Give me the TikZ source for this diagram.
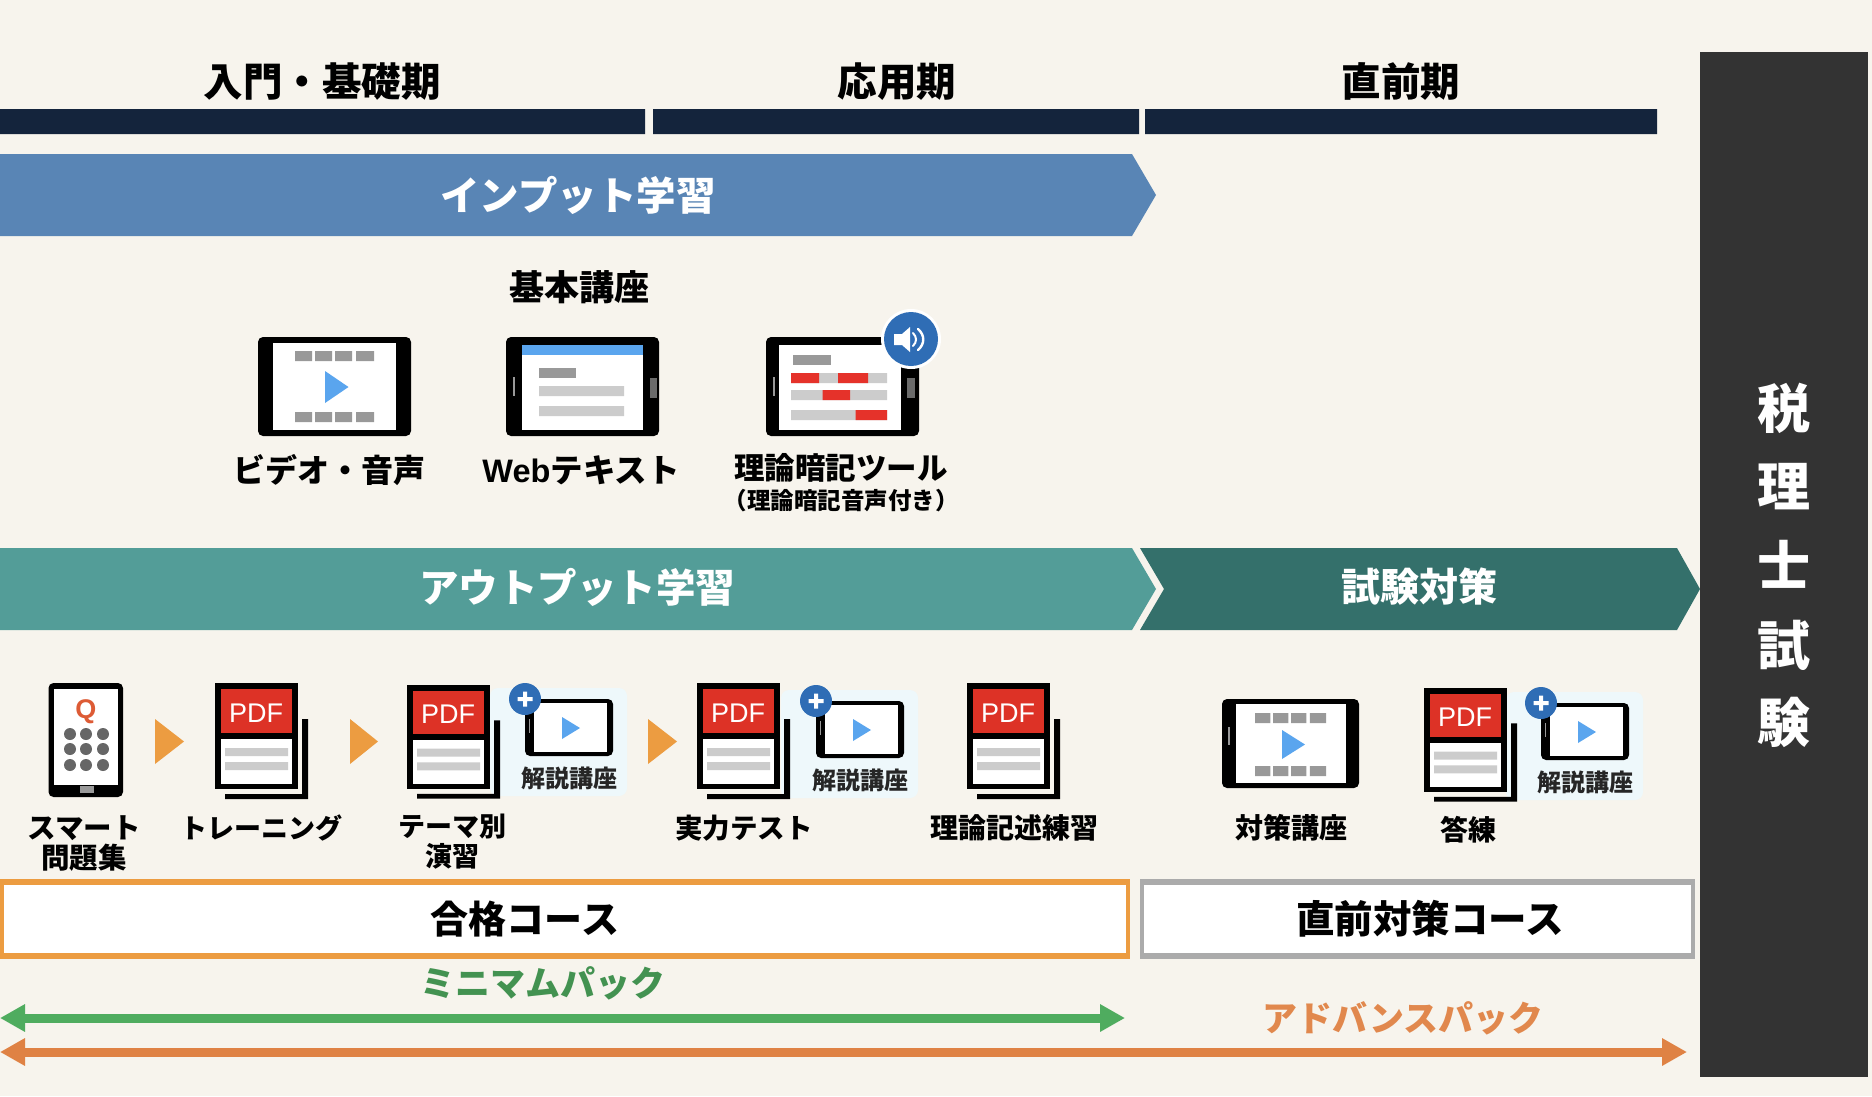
\documentclass[tikz,border=0pt]{standalone}
\usepackage{fontspec}
\usetikzlibrary{arrows.meta}
\setmainfont{Noto Sans CJK JP}
\newfontfamily\pdffont{Liberation Sans}
\newcommand\fsz[1]{\fontsize{#1}{#1}\selectfont}
\definecolor{bgc}{HTML}{F7F4ED}
\definecolor{navy}{HTML}{14243C}
\definecolor{inblue}{HTML}{5985B5}
\definecolor{outteal}{HTML}{539D98}
\definecolor{darkteal}{HTML}{34706B}
\definecolor{barc}{HTML}{333333}
\definecolor{playb}{HTML}{5AA5EE}
\definecolor{gr1}{HTML}{999999}
\definecolor{gr2}{HTML}{CCCCCC}
\definecolor{redc}{HTML}{E5322A}
\definecolor{pdfred}{HTML}{DD3226}
\definecolor{badge}{HTML}{2F6DB5}
\definecolor{orangec}{HTML}{EC9C41}
\definecolor{grayb}{HTML}{ABABAB}
\definecolor{greenc}{HTML}{4FAC5F}
\definecolor{orarrow}{HTML}{DF8244}
\definecolor{panelc}{HTML}{EEF8FB}
\definecolor{qc}{HTML}{DD5B35}
\tikzset{
  jt/.style={inner sep=0pt,outer sep=0pt,font=\bfseries\fsz{#1},text height=0.88*#1pt,text depth=0.12*#1pt},
  jw/.style={jt=#1,text=white},
  tabk/.style={fill=black,rounded corners=5pt},
  twoline/.style={inner sep=0pt,align=center,font=\bfseries\fontsize{#1}{30}\selectfont}
}
% tablet: outer and screen
\newcommand\tabfr[8]{\fill[tabk] (#1,#2) rectangle (#3,#4); \fill[white] (#5,#6) rectangle (#7,#8);}
% four video blocks
\newcommand\vidbl[3]{\begin{scope}[shift={(#1,#2)},xscale=#3]
  \fill[gr1] (0,0) rectangle (17,10) (20,0) rectangle (37,10) (40,0) rectangle (57,10) (61,0) rectangle (79,10);
\end{scope}}
% pdf icon: x y yscale name
\newcommand\pdficon[4]{\begin{scope}[shift={(#1,#2)},yscale=#3]
  \fill[black] (0,0) rectangle (83,106);
  \fill[pdfred] (6,6) rectangle (77,50);
  \fill[white] (6,56) rectangle (77,101);
  \fill[gr2] (10,65) rectangle (73,73) (10,79) rectangle (73,87);
  \fill[black] (87,36) rectangle (93,116) (10,111) rectangle (93,116);
  \node[inner sep=0pt,text=white,font=\pdffont\fsz{27}] (#4) at (41,30) {PDF};
\end{scope}}
% mini lecture tablet with panel and badge: x y name
\newcommand\minipanel[2]{\fill[panelc,rounded corners=8pt] (#1-35,#2-11) rectangle (#1+102,#2+97);}
\newcommand\minitab[3]{\begin{scope}[shift={(#1,#2)}]
  \fill[tabk] (0,0) rectangle (88,57);
  \fill[white] (9,4) rectangle (82,53);
  \fill[gr1] (3.5,20) rectangle (5,34);
  \fill[playb] (37,18) -- (55,29) -- (37,40) -- cycle;
  \fill[badge] (0,0) circle (16);
  \fill[white] (-7.5,-2) rectangle (7.5,2) (-2,-7.5) rectangle (2,7.5);
  \node[jt=24,text=black!85] (#3) at (44,79) {解説講座};
\end{scope}}
\begin{document}
\begin{tikzpicture}[x=1pt,y=-1pt]
\useasboundingbox (0,0) rectangle (1872,1096);
\fill[bgc] (0,0) rectangle (1872,1096);
% headers
\fill[navy] (0,109) rectangle (645,134) (653,109) rectangle (1139,134) (1145,109) rectangle (1657,134);
\node[jt=39.5] (h1) at (322,81.5) {入門・基礎期};
\node[jt=39.5] (h2) at (897,81.5) {応用期};
\node[jt=39.5] (h3) at (1401,81.5) {直前期};
% chevrons
\fill[inblue] (0,154) -- (1132,154) -- (1156,195) -- (1132,236) -- (0,236) -- cycle;
\node[jw=39.5] (input) at (578,195) {インプット学習};
\fill[outteal] (0,548) -- (1132,548) -- (1156,589) -- (1132,630) -- (0,630) -- cycle;
\node[jw=39.5] (output) at (577,587) {アウトプット学習};
\fill[darkteal] (1140,548) -- (1677,548) -- (1700,589) -- (1677,630) -- (1140,630) -- (1164,589) -- cycle;
\node[jw=39] (taisaku) at (1419,587) {試験対策};
% right bar
\fill[barc] (1700,52) rectangle (1868,1077);
\node[jw=53] (z1) at (1784,408) {税};
\node[jw=53] (z2) at (1784,486) {理};
\node[jw=53] (z3) at (1784,565) {士};
\node[jw=53] (z4) at (1784,645) {試};
\node[jw=53] (z5) at (1784,722) {験};
% basic lecture
\node[jt=35] (kihon) at (579,287) {基本講座};
\tabfr{258}{337}{411}{436}{273}{343}{396}{430}
\vidbl{295}{351}{1}
\vidbl{295}{412}{1}
\fill[playb] (325,371) -- (348.5,387) -- (325,403) -- cycle;
\tabfr{506}{337}{659}{436}{521.5}{345}{643}{430}
\fill[playb] (521.5,345) rectangle (643,355);
\fill[gr1] (539,368) rectangle (576,378);
\fill[gr2] (539,386) rectangle (624,396) (539,406) rectangle (624,416);
\fill[gr1!70!black] (649.5,378) rectangle (657,398);
\fill[gr1] (513,377) rectangle (515,396);
\tabfr{766}{337}{919}{436}{779}{345}{901}{430}
\fill[gr1] (793,355) rectangle (831,365);
\fill[gr2] (791,373) rectangle (887,383) (791,390) rectangle (887,400) (791,410) rectangle (887,420);
\fill[redc] (791,373) rectangle (819,383) (838,373) rectangle (868,383) (822.5,390) rectangle (850,400) (855.5,410) rectangle (887,420);
\fill[gr1!70!black] (907,378) rectangle (915,398);
\fill[gr1] (773,377) rectangle (775,396);
\fill[white] (911,339) circle (30);
\fill[badge] (911,339) circle (27);
\fill[white] (894,334) -- (902,334) -- (910,327) -- (910,352) -- (902,345) -- (894,345) -- cycle;
\draw[white,line width=2pt,line cap=round] (913,333) .. controls (917,337) and (917,342) .. (913,346);
\draw[white,line width=2.4pt,line cap=round] (918,329) .. controls (925,335) and (925,344) .. (918,350);
\node[jt=32] (l1) at (329,470) {ビデオ・音声};
\node[jt=32.5] (l2) at (581,470) {{\pdffont\bfseries Web}テキスト};
\node[jt=30.5] (l3) at (841,468) {理論暗記ツール};
\node[jt=23.5] (l3b) at (841,501) {（理論暗記音声付き）};
% smartphone
\fill[tabk] (48.5,683) rectangle (123,797);
\fill[white] (54,689) rectangle (117.5,785);
\node[inner sep=0pt,text=qc,font=\pdffont\bfseries\fsz{27}] (q) at (86,712) {Q};
\foreach \cx in {70,86,103} \foreach \cy in {734,749,765} \fill[black!60] (\cx,\cy) circle (6);
\fill[gr1] (80,786) rectangle (94,793);
% orange arrowheads
\fill[orangec] (155,719) -- (184,741.5) -- (155,764) -- cycle;
\fill[orangec] (350,719) -- (378,741.5) -- (350,764) -- cycle;
\fill[orangec] (648,719) -- (677,741.5) -- (648,764) -- cycle;
% panels
\minipanel{525}{699}
\minipanel{816}{701}
\minipanel{1541}{703}
% pdf icons
\pdficon{215}{683}{1}{p1}
\pdficon{407}{685}{0.98}{p2}
\pdficon{697}{683}{1}{p3}
\pdficon{967}{683}{1}{p4}
\pdficon{1424}{688}{0.98}{p5}
\minitab{525}{699}{m1}
\minitab{816}{701}{m2}
\minitab{1541}{703}{m3}
% strategy lecture tablet
\tabfr{1222}{699}{1359}{788}{1236}{704}{1346}{783}
\vidbl{1255}{713}{0.9}
\vidbl{1255}{766}{0.9}
\fill[playb] (1282,730) -- (1305,744.5) -- (1282,759) -- cycle;
\fill[gr1] (1228,727) rectangle (1230,745);
% labels
\node[twoline=28.5] (s1) at (84,843.5) {スマート\\問題集};
\node[jt=27] (s2) at (261,828) {トレーニング};
\node[twoline=27] (s3) at (452,842) {テーマ別\\演習};
\node[jt=27.5] (s4) at (744,828) {実力テスト};
\node[jt=28] (s5) at (1014,828) {理論記述練習};
\node[jt=28] (s6) at (1291,828) {対策講座};
\node[jt=28] (s7) at (1468,830) {答練};
% course boxes
\fill[orangec] (0,879) rectangle (1130,959);
\fill[white] (4,885) rectangle (1126,953);
\node[jt=38] (c1) at (525,919) {合格コース};
\fill[grayb] (1140,879) rectangle (1695,959);
\fill[white] (1144,885) rectangle (1691,953);
\node[jt=38.5] (c2) at (1430,919) {直前対策コース};
% pack arrows
\node[jt=35,text=greenc!85!black] (minimum) at (543,983) {ミニマムパック};
\coordinate (g0) at (0,1018);
\coordinate (g1) at (1125,1018);
\draw[greenc,line width=9pt,{Triangle[length=25pt,width=26pt]}-{Triangle[length=25pt,width=26pt]}] (g0) -- (g1);
\node[jt=35,text=orarrow!95!white] (advance) at (1403,1018) {アドバンスパック};
\coordinate (o0) at (0,1052);
\coordinate (o1) at (1687,1052);
\draw[orarrow,line width=9pt,{Triangle[length=25pt,width=26pt]}-{Triangle[length=25pt,width=26pt]}] (o0) -- (o1);
\end{tikzpicture}
\end{document}
